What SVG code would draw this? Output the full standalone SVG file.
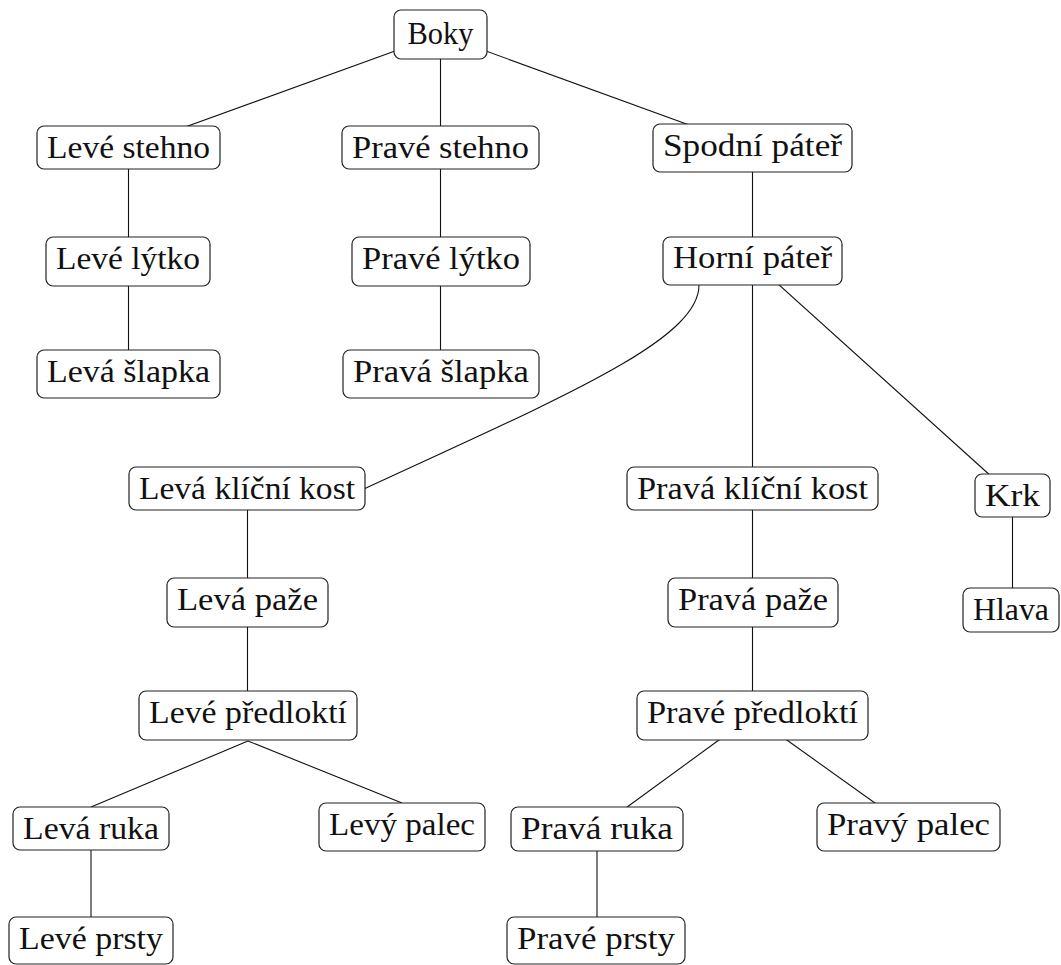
<svg xmlns="http://www.w3.org/2000/svg" width="1061" height="965" viewBox="0 0 1061 965">
<style>
.n rect{fill:#fff;stroke:#222;stroke-width:1.2}
.n text{font-family:Liberation Serif,"Noto Serif","DejaVu Serif",Tinos,"Times New Roman",Times,FreeSerif,serif;font-size:31px;fill:#111;text-anchor:middle}
#edges path{fill:none;stroke:#111;stroke-width:1.1}
</style>
<rect width="1061" height="965" fill="#fff"/>
<g id="edges">
<path d="M440.5 34.5 L128.5 147.5"/>
<path d="M440.5 34.5 V147.5"/>
<path d="M440.5 34.5 L752.5 148"/>
<path d="M128.5 147.5 V374"/>
<path d="M440.5 147.5 V374"/>
<path d="M752.5 148 V715"/>
<path d="M752.5 261 L1012.5 495.5"/>
<path d="M1012.5 495.5 V610"/>
<path d="M699 285 C699 340 565 396 365 488.5"/>
<path d="M247.5 488.5 V715"/>
<path d="M248 741 L91 807"/>
<path d="M248 741 L402 803"/>
<path d="M752.5 715.5 L597 829"/>
<path d="M752.5 715.5 L908.5 827"/>
<path d="M91 828.5 V940"/>
<path d="M597 829 V940"/>
</g>
<g id="boky" class="n"><rect x="394" y="10" width="93" height="49" rx="7"/><text x="440.5" y="44" textLength="66" lengthAdjust="spacingAndGlyphs">Boky</text></g>
<g id="leve-stehno" class="n"><rect x="37" y="126" width="183" height="43" rx="7"/><text x="128.5" y="158" textLength="163" lengthAdjust="spacingAndGlyphs">Levé stehno</text></g>
<g id="prave-stehno" class="n"><rect x="342" y="126" width="197" height="43" rx="7"/><text x="440.5" y="158" textLength="177" lengthAdjust="spacingAndGlyphs">Pravé stehno</text></g>
<g id="spodni-pater" class="n"><rect x="653" y="124" width="199" height="48" rx="7"/><text x="752.5" y="156" textLength="179" lengthAdjust="spacingAndGlyphs">Spodní páteř</text></g>
<g id="leve-lytko" class="n"><rect x="46" y="237" width="164" height="49" rx="7"/><text x="128" y="269" textLength="144" lengthAdjust="spacingAndGlyphs">Levé lýtko</text></g>
<g id="prave-lytko" class="n"><rect x="352" y="237" width="178" height="49" rx="7"/><text x="441" y="269" textLength="158" lengthAdjust="spacingAndGlyphs">Pravé lýtko</text></g>
<g id="horni-pater" class="n"><rect x="663" y="237" width="179" height="48" rx="7"/><text x="752.5" y="268" textLength="159" lengthAdjust="spacingAndGlyphs">Horní páteř</text></g>
<g id="leva-slapka" class="n"><rect x="37" y="350" width="183" height="48" rx="7"/><text x="128.5" y="382" textLength="163" lengthAdjust="spacingAndGlyphs">Levá šlapka</text></g>
<g id="prava-slapka" class="n"><rect x="343" y="350" width="196" height="48" rx="7"/><text x="441" y="382" textLength="176" lengthAdjust="spacingAndGlyphs">Pravá šlapka</text></g>
<g id="leva-klicni-kost" class="n"><rect x="129" y="467" width="236" height="43" rx="7"/><text x="247" y="499" textLength="216" lengthAdjust="spacingAndGlyphs">Levá klíční kost</text></g>
<g id="prava-klicni-kost" class="n"><rect x="627" y="467" width="251" height="43" rx="7"/><text x="752.5" y="499" textLength="231" lengthAdjust="spacingAndGlyphs">Pravá klíční kost</text></g>
<g id="krk" class="n"><rect x="975" y="474" width="75" height="43" rx="7"/><text x="1012.5" y="506" textLength="55" lengthAdjust="spacingAndGlyphs">Krk</text></g>
<g id="leva-paze" class="n"><rect x="167" y="578" width="161" height="49" rx="7"/><text x="247.5" y="610" textLength="141" lengthAdjust="spacingAndGlyphs">Levá paže</text></g>
<g id="prava-paze" class="n"><rect x="668" y="578" width="170" height="49" rx="7"/><text x="753" y="610" textLength="150" lengthAdjust="spacingAndGlyphs">Pravá paže</text></g>
<g id="hlava" class="n"><rect x="963" y="588" width="96" height="44" rx="7"/><text x="1011" y="620" textLength="76" lengthAdjust="spacingAndGlyphs">Hlava</text></g>
<g id="leve-predlokti" class="n"><rect x="139" y="691" width="218" height="49" rx="7"/><text x="248" y="723" textLength="198" lengthAdjust="spacingAndGlyphs">Levé předloktí</text></g>
<g id="prave-predlokti" class="n"><rect x="637" y="691" width="231" height="49" rx="7"/><text x="752.5" y="723" textLength="211" lengthAdjust="spacingAndGlyphs">Pravé předloktí</text></g>
<g id="leva-ruka" class="n"><rect x="13" y="807" width="156" height="43" rx="7"/><text x="91" y="839" textLength="136" lengthAdjust="spacingAndGlyphs">Levá ruka</text></g>
<g id="levy-palec" class="n"><rect x="319" y="803" width="166" height="48" rx="7"/><text x="402" y="835" textLength="146" lengthAdjust="spacingAndGlyphs">Levý palec</text></g>
<g id="prava-ruka" class="n"><rect x="511" y="807" width="172" height="44" rx="7"/><text x="597" y="839" textLength="152" lengthAdjust="spacingAndGlyphs">Pravá ruka</text></g>
<g id="pravy-palec" class="n"><rect x="817" y="803" width="183" height="48" rx="7"/><text x="908.5" y="835" textLength="163" lengthAdjust="spacingAndGlyphs">Pravý palec</text></g>
<g id="leve-prsty" class="n"><rect x="9" y="917" width="164" height="47" rx="7"/><text x="91" y="949" textLength="144" lengthAdjust="spacingAndGlyphs">Levé prsty</text></g>
<g id="prave-prsty" class="n"><rect x="507" y="917" width="178" height="47" rx="7"/><text x="596" y="949" textLength="158" lengthAdjust="spacingAndGlyphs">Pravé prsty</text></g>
</svg>
